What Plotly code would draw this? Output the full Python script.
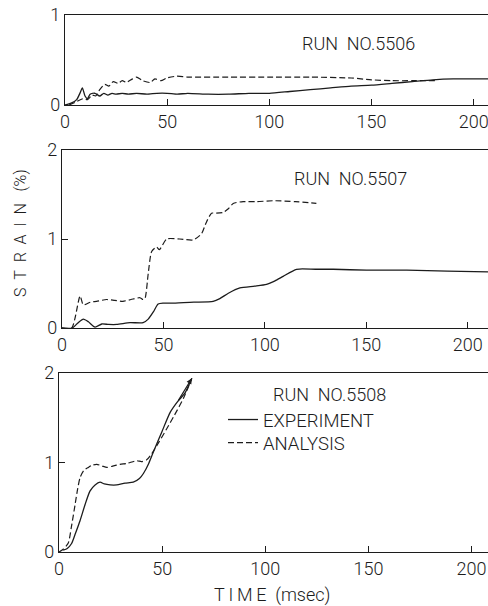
import plotly.graph_objects as go

# ---------------- data ----------------
# RUN NO.5506
exp1_t = [0, 3, 5.7, 7.5, 8.5, 9.8, 11, 12.3, 14.7, 17, 19, 21, 23, 25, 28, 31, 35, 40, 45, 50, 55, 60, 70, 80, 90, 100, 110, 120, 130, 140, 150, 160, 170, 180, 190, 200, 207]
exp1_v = [0, 0.02, 0.06, 0.14, 0.19, 0.10, 0.07, 0.12, 0.13, 0.10, 0.13, 0.11, 0.13, 0.12, 0.13, 0.12, 0.13, 0.12, 0.13, 0.13, 0.12, 0.13, 0.12, 0.12, 0.13, 0.13, 0.15, 0.17, 0.19, 0.21, 0.22, 0.24, 0.26, 0.28, 0.29, 0.29, 0.29]
ana1_t = [2, 5, 8.8, 11, 13.3, 15, 17, 19.5, 21.5, 23.6, 26, 28, 30, 33, 35, 38, 41.7, 44, 47, 49.8, 54.7, 60, 80, 100, 120, 140, 150, 160, 170, 181]
ana1_v = [0, 0.03, 0.07, 0.06, 0.11, 0.10, 0.17, 0.23, 0.21, 0.26, 0.24, 0.27, 0.25, 0.29, 0.31, 0.27, 0.25, 0.29, 0.27, 0.30, 0.32, 0.31, 0.31, 0.31, 0.31, 0.30, 0.28, 0.27, 0.27, 0.27]

# RUN NO.5507
exp2_t = [0, 5, 8, 10.5, 13, 16.3, 19.6, 23, 27, 33.5, 40, 42.5, 45, 47.4, 50, 54.9, 65, 74.5, 77.8, 82, 87.7, 95, 100.8, 105, 109, 115.6, 125, 133.7, 150, 170, 190, 210]
exp2_v = [0, 0, 0.06, 0.10, 0.07, 0.01, 0.045, 0.04, 0.04, 0.06, 0.06, 0.10, 0.18, 0.27, 0.28, 0.28, 0.29, 0.30, 0.33, 0.39, 0.45, 0.47, 0.49, 0.53, 0.58, 0.66, 0.66, 0.66, 0.65, 0.65, 0.64, 0.63]
ana2_t = [0, 4.8, 8.9, 10.5, 14, 17, 22, 26, 30, 34, 38.4, 40, 41, 42.5, 44.2, 46.6, 48, 51.6, 58, 64.7, 68.8, 71, 73.7, 76, 79.5, 82, 84.4, 89.3, 96, 104, 115, 125.4]
ana2_v = [0, 0, 0.36, 0.26, 0.29, 0.30, 0.32, 0.31, 0.30, 0.32, 0.34, 0.32, 0.34, 0.61, 0.86, 0.91, 0.88, 1.00, 1.00, 0.99, 1.06, 1.18, 1.29, 1.29, 1.30, 1.34, 1.40, 1.42, 1.42, 1.43, 1.42, 1.40]

# RUN NO.5508
exp3_t = [2, 4, 6.1, 8, 10.2, 12.5, 15, 17.5, 19.9, 22, 24.8, 28, 32, 36, 39, 41, 43.5, 45.8, 50, 53.9, 57.5, 61.2, 64.4]
exp3_v = [0.02, 0.04, 0.095, 0.21, 0.35, 0.52, 0.68, 0.75, 0.78, 0.76, 0.75, 0.75, 0.77, 0.78, 0.82, 0.88, 0.99, 1.12, 1.35, 1.56, 1.68, 1.78, 1.94]
ana3_t = [0, 2, 4.5, 6, 7.8, 9, 10.2, 12, 14.2, 16, 18.3, 21, 23.2, 26, 29.6, 33, 37.7, 40, 42.5, 45, 48.5, 52.3, 56, 60.4, 64.4]
ana3_v = [0, 0.03, 0.10, 0.28, 0.53, 0.70, 0.83, 0.91, 0.945, 0.97, 0.98, 0.96, 0.945, 0.96, 0.98, 0.99, 1.02, 1.01, 1.03, 1.10, 1.23, 1.38, 1.53, 1.72, 1.94]

x_ticks = [0, 50, 100, 150, 200]
x_labels = ["0", "50", "100", "150", "200"]
y1_ticks = [0, 1]
y23_ticks = [0, 1, 2]
run_labels = ["RUN  NO.5506", "RUN  NO.5507", "RUN  NO.5508"]
legend_names = ["EXPERIMENT", "ANALYSIS"]

# ---------------- figure ----------------
W, H = 488, 606
INK = "#1c1c1c"
FONT = "Roboto"
WT = 300

def py(px):
    return 1 - px / H

panels = [
    # (x left px, x max, y top px, y bottom px, y max, yticks)
    (65, 207, 15, 105, 1, y1_ticks),
    (62, 210, 150, 328, 2, y23_ticks),
    (59, 208, 373, 552, 2, y23_ticks),
]
series = [(exp1_t, exp1_v, ana1_t, ana1_v),
          (exp2_t, exp2_v, ana2_t, ana2_v),
          (exp3_t, exp3_v, ana3_t, ana3_v)]

fig = go.Figure()
layout = dict(
    width=W, height=H, margin=dict(l=0, r=0, t=0, b=0),
    paper_bgcolor="white", plot_bgcolor="white",
    font=dict(family=FONT, size=17, color=INK, weight=WT),
)

for i, ((xl, xmax, yt, yb, ymax, yt_vals), (et, ev, at, av)) in enumerate(zip(panels, series)):
    n = "" if i == 0 else str(i + 1)
    xa, ya = "x" + n, "y" + n
    last = (i == 2)
    fig.add_trace(go.Scatter(x=et, y=ev, xaxis=xa, yaxis=ya, mode="lines",
                             line=dict(color=INK, width=1.3), name=legend_names[0],
                             showlegend=last, legend="legend",
                             line_shape="spline", line_smoothing=0.6))
    fig.add_trace(go.Scatter(x=at, y=av, xaxis=xa, yaxis=ya, mode="lines",
                             line=dict(color=INK, width=1.2, dash="6px,3px"), name=legend_names[1],
                             showlegend=last, legend="legend2",
                             line_shape="spline", line_smoothing=0.6))
    layout["xaxis" + n] = dict(
        domain=[xl / W, 1], range=[0, xmax], anchor=ya,
        showline=True, linecolor=INK, linewidth=1.2, mirror=True,
        ticks="inside", ticklen=6, tickwidth=1.1, tickcolor=INK,
        tickvals=x_ticks, ticktext=x_labels, showgrid=False, zeroline=False,
        tickfont=dict(size=18, family=FONT, weight=WT), automargin=False,
        ticklabeloverflow="allow",
    )
    layout["yaxis" + n] = dict(
        domain=[py(yb), py(yt)], range=[0, ymax], anchor=xa,
        showline=True, linecolor=INK, linewidth=1.2,
        ticks="inside", ticklen=6, tickwidth=1.1, tickcolor=INK,
        tickvals=yt_vals, showgrid=False, zeroline=False,
        tickfont=dict(size=18, family=FONT, weight=WT), automargin=False,
        ticklabeloverflow="allow",
    )

fig.update_layout(**layout)

tf = dict(size=18, family=FONT, weight=WT)
annotations = [
    dict(text=run_labels[0], x=358 / W, y=py(43), xref="paper", yref="paper",
         xanchor="center", yanchor="middle", showarrow=False, font=tf),
    dict(text=run_labels[1], x=350 / W, y=py(179), xref="paper", yref="paper",
         xanchor="center", yanchor="middle", showarrow=False, font=tf),
    dict(text=run_labels[2], x=329 / W, y=py(394), xref="paper", yref="paper",
         xanchor="center", yanchor="middle", showarrow=False, font=tf),
    dict(text="S\u00a0\u00a0T\u00a0\u00a0R\u00a0\u00a0A\u00a0\u00a0I\u00a0\u00a0N\u00a0\u00a0\u00a0(%)",
         x=20 / W, y=py(233), xref="paper", yref="paper", textangle=-90,
         xanchor="center", yanchor="middle",
         showarrow=False, font=dict(size=16, family=FONT, weight=WT)),
    dict(text="T\u2009I\u2009M\u2009E\u00a0\u00a0(msec)", x=272 / W, y=py(595),
         xref="paper", yref="paper", xanchor="center", yanchor="middle",
         showarrow=False, font=tf),
    # arrow at the end of the RUN NO.5508 curves
    dict(x=exp3_t[-1], y=exp3_v[-1], ax=exp3_t[-3], ay=exp3_v[-3], xref="x3", yref="y3",
         axref="x3", ayref="y3", text="", showarrow=True, arrowhead=2, arrowsize=1,
         arrowwidth=1.1, arrowcolor=INK),
]
leg = dict(xanchor="left", yanchor="middle", bgcolor="rgba(0,0,0,0)",
           font=dict(size=18.5, family=FONT, weight=WT), itemwidth=30)
fig.update_layout(
    annotations=annotations,
    legend=dict(x=223 / W, y=py(420), **leg),
    legend2=dict(x=223 / W, y=py(443), **leg),
)

fig.write_html("out.html")
